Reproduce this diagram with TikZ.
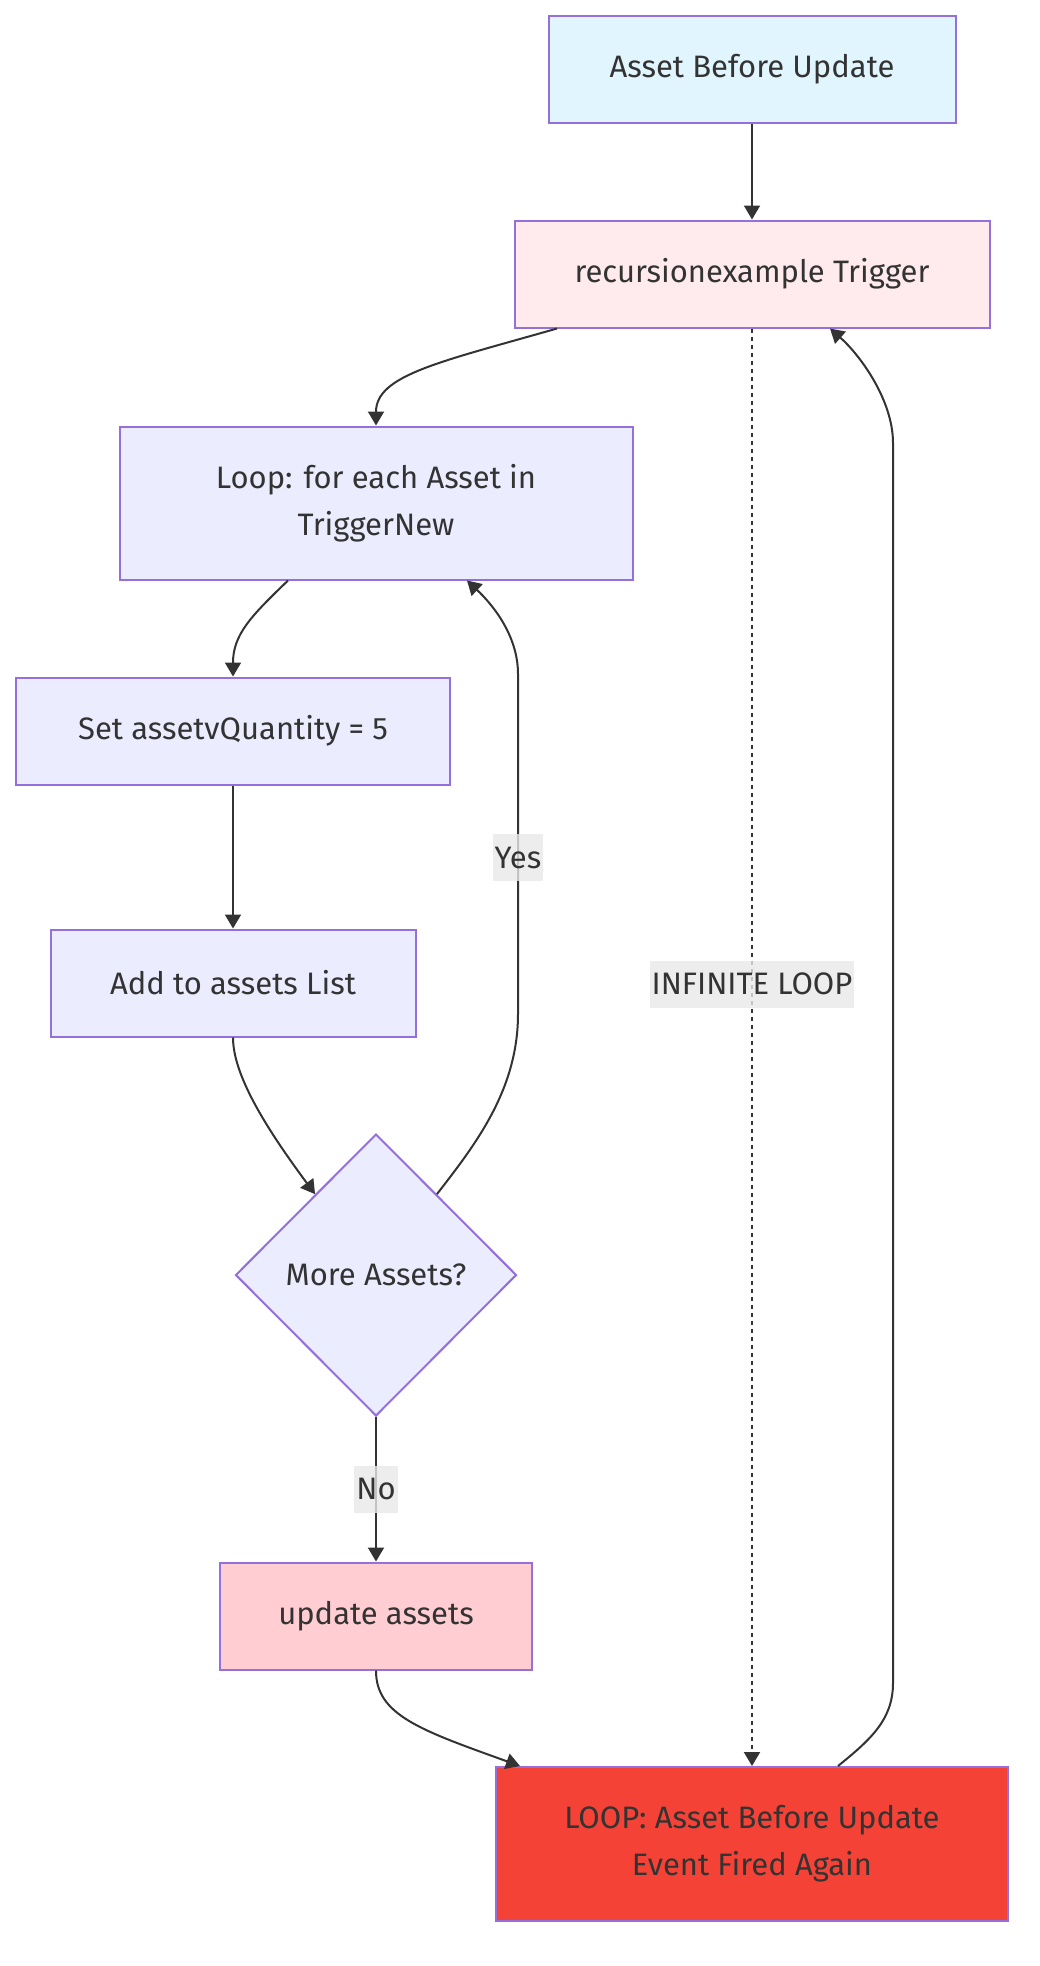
\documentclass[tikz,border=0pt]{standalone}
\usepackage{fontspec}
\setmainfont{Fira Sans}
\usetikzlibrary{shapes.geometric,arrows.meta}
\definecolor{edgegray}{HTML}{333333}
\definecolor{nodeborder}{HTML}{9370DB}
\definecolor{lavender}{HTML}{ECECFF}
\definecolor{skyfill}{HTML}{E1F5FE}
\definecolor{blushfill}{HTML}{FFEBEE}
\definecolor{rosefill}{HTML}{FFCDD2}
\definecolor{alarmred}{HTML}{F44336}
\definecolor{labelgray}{HTML}{E8E8E8}

\begin{document}
\begin{tikzpicture}[
    x=1pt,y=-1pt,
    font=\fontsize{31}{47}\selectfont,
    text=edgegray,
    box/.style={rectangle,draw=nodeborder,line width=2pt,fill=lavender,minimum height=107pt,inner sep=0pt,align=center},
    decide/.style={diamond,aspect=1,draw=nodeborder,line width=2pt,fill=lavender,minimum width=281pt,minimum height=282pt,inner sep=0pt},
    flow/.style={draw=edgegray,line width=2pt,-{Triangle[length=14pt,width=16pt]}},
    lbl/.style={fill=labelgray,fill opacity=0.8,text opacity=1,inner xsep=2pt,inner ysep=0pt,minimum height=47pt}
]
    \useasboundingbox (0,0) rectangle (1040,1966);

    \node[box,fill=skyfill,minimum width=407pt] (asset) at (752,69) {Asset Before Update};
    \node[box,fill=blushfill,minimum width=475pt] (trig) at (752,274) {recursionexample Trigger};
    \node[box,minimum width=513pt,minimum height=153pt] (loop) at (376,503) {Loop: for each Asset in\\TriggerNew};
    \node[box,minimum width=434pt] (set) at (233,731) {Set assetvQuantity = 5};
    \node[box,minimum width=365pt] (add) at (233,983) {Add to assets List};
    \node[decide] (more) at (376,1275) {More Assets?};
    \node[box,fill=rosefill,minimum width=312pt] (upd) at (376,1616) {update assets};
    \node[box,fill=alarmred,minimum width=512pt,minimum height=154pt] (again) at (752,1844) {LOOP: Asset Before Update\\Event Fired Again};

    \draw[flow] (asset) -- (trig);
    \draw[flow] ([xshift=-195pt]trig.south) .. controls (440,362) and (376,375) .. (loop.north);
    \draw[flow] ([xshift=-88pt]loop.south) .. controls (250,617) and (233,635) .. (set.north);
    \draw[flow] (set) -- (add);
    \draw[flow] (add.south) .. controls (233,1075) and (266,1128) .. (more.127);
    \draw[flow] (more.53) .. controls (475,1145) and (518,1090) .. (518,1014)
        -- node[lbl,pos=0.46] (yes) {Yes} (518,674)
        .. controls (518,635) and (492,604) .. ([xshift=91pt]loop.south);
    \draw[flow] (more) -- node[lbl] (no) {No} (upd);
    \draw[flow] (upd.south) .. controls (376,1715) and (420,1730) .. ([xshift=-232pt]again.north);
    \draw[flow] ([xshift=86pt]again.north) .. controls (870,1740) and (893,1720) .. (893,1683)
        -- (893,443) .. controls (893,400) and (860,355) .. ([xshift=78pt]trig.south);
    \draw[flow,dash pattern=on 4pt off 4pt] (trig.south) -- node[lbl,pos=0.456] (inf) {INFINITE LOOP} (trig.south |- again.north);
\end{tikzpicture}
\end{document}
